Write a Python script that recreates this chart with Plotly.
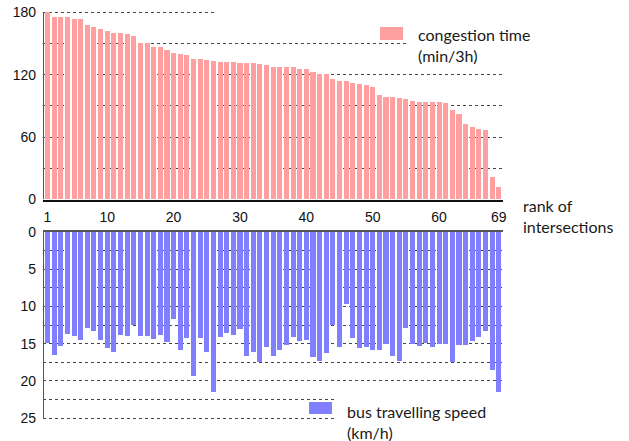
import plotly.graph_objects as go

ranks = list(range(1, 70))
congestion_time = [180, 175, 175, 175, 173, 173, 168, 166, 164, 162,
                   160, 160, 158.5, 157, 150, 150, 146.5, 146.5, 143.5, 141,
                   140, 139, 135, 135, 134, 133, 132, 132, 132, 131.5,
                   131.5, 131, 130.5, 129.3, 127.3, 127.3, 127.3, 127.3, 125.4, 125.4,
                   122, 120.6, 120.6, 115.5, 113.9, 113.9, 111.9, 111, 110, 108,
                   100.4, 98.5, 98.5, 97.5, 96.5, 94.6, 93.6, 93.6, 93.6, 93.6,
                   92.4, 86, 82, 72.5, 69.6, 67.7, 66.7, 21.5, 11.8]
bus_speed = [14.9, 16.5, 15.3, 13.7, 13.9, 14.5, 12.9, 13.3, 14.5, 15.5,
             16.1, 13.8, 13.9, 12.5, 13.9, 13.9, 14.3, 13.8, 14.7, 11.7,
             15.8, 14.2, 19.3, 14.2, 16.1, 21.4, 14.1, 13.5, 13.8, 13.0,
             16.6, 16.1, 17.4, 15.4, 16.6, 15.8, 15.1, 14.1, 14.6, 14.5,
             16.7, 17.3, 16.2, 12.4, 15.4, 9.6, 14.2, 15.5, 15.4, 15.8,
             15.8, 15.0, 16.6, 17.3, 12.9, 15.0, 15.3, 14.9, 15.4, 15.0,
             15.0, 17.4, 15.1, 15.1, 14.6, 14.1, 13.3, 18.5, 21.4]
x_tickvals = [1, 10, 20, 30, 40, 50, 60, 69]
top_tickvals = [0, 30, 60, 90, 120, 150, 180]
top_ticktext = ['0', '', '60', '', '120', '', '180']
bot_tickvals = [0, 2.5, 5, 7.5, 10, 12.5, 15, 17.5, 20, 22.5, 25]
bot_ticktext = ['0', '', '5', '', '10', '', '15', '', '20', '', '25']

W, H = 629, 441
def px(x):
    return x / W
def py(y):
    return 1 - y / H

TEXT_FONT = dict(family='Lato', size=16, color='#1a1a1a')
TICK_FONT = dict(family='Liberation Sans', size=14, color='#111')
GRID = dict(showgrid=True, gridcolor='#444', gridwidth=1, griddash='dot')

fig = go.Figure()
fig.add_trace(go.Bar(x=ranks, y=congestion_time, marker_color='#FF9F9F',
                     width=0.76, xaxis='x', yaxis='y', name='congestion time (min/3h)',
                     showlegend=False))
fig.add_trace(go.Bar(x=ranks, y=bus_speed, marker_color='#8080FF',
                     width=0.76, xaxis='x2', yaxis='y2', name='bus travelling speed (km/h)',
                     showlegend=False))

xdom = [px(43), px(503)]
xrange_ = [0.32, 69.63]
# top: 0 at y=199.5, 180 at y=12.3; range padded to 183 so the 180 gridline is drawn
top_ppu = (199.5 - 12.3) / 180
# bottom: 0 at y=231.7, 25 at y=418.3; range padded to 25.3 so the 25 gridline is drawn
bot_ppu = (418.3 - 231.7) / 25
fig.update_layout(
    template='none',
    width=W, height=H,
    margin=dict(l=0, r=0, t=0, b=0, autoexpand=False),
    paper_bgcolor='white', plot_bgcolor='white',
    bargap=0,
    xaxis=dict(domain=xdom, range=xrange_, tickvals=x_tickvals, showgrid=False,
               showline=True, linecolor='#111', linewidth=1.5, ticks='',
               tickfont=TICK_FONT, anchor='y', zeroline=False, ticklabelstandoff=4,
               automargin=False),
    yaxis=dict(domain=[py(199.5), py(199.5 - 183 * top_ppu)], range=[0, 183],
               tickvals=top_tickvals, ticktext=top_ticktext, showline=False,
               tickfont=TICK_FONT, zeroline=False, anchor='x', ticks='',
               ticklabelstandoff=6, automargin=False, ticklabeloverflow='allow', **GRID),
    xaxis2=dict(domain=xdom, range=xrange_, side='top', showticklabels=False,
                showgrid=False, showline=True, linecolor='#555', linewidth=2,
                anchor='y2', zeroline=False, ticks='', automargin=False),
    yaxis2=dict(domain=[py(231.7 + 25.3 * bot_ppu), py(231.7)], range=[25.3, 0],
                tickvals=bot_tickvals, ticktext=bot_ticktext, showline=False,
                tickfont=TICK_FONT, zeroline=False, anchor='x2', ticks='',
                ticklabelstandoff=6, automargin=False, ticklabeloverflow='allow', **GRID),
)

shapes = [
    # vertical axis lines (ending exactly at 180 and 25, as in the reference)
    dict(type='line', xref='x', yref='y', x0=xrange_[0], x1=xrange_[0], y0=0, y1=180,
         line=dict(color='#555', width=2), layer='above'),
    dict(type='line', xref='x2', yref='y2', x0=xrange_[0], x1=xrange_[0], y0=0, y1=25,
         line=dict(color='#555', width=2), layer='above'),
    # white masks where the reference's gridlines are interrupted by the legend areas
    dict(type='rect', xref='paper', yref='paper', x0=px(217), x1=px(506),
         y0=py(15), y1=py(9), fillcolor='white', line_width=0, layer='above'),
    dict(type='rect', xref='paper', yref='paper', x0=px(406), x1=px(506),
         y0=py(66), y1=py(20), fillcolor='white', line_width=0, layer='above'),
    dict(type='rect', xref='paper', yref='paper', x0=px(335), x1=px(506),
         y0=py(425), y1=py(395), fillcolor='white', line_width=0, layer='above'),
    # legend swatches
    dict(type='rect', xref='paper', yref='paper', x0=px(380), x1=px(403),
         y0=py(40), y1=py(27), fillcolor='#FF9F9F', line_width=0, layer='above'),
    dict(type='rect', xref='paper', yref='paper', x0=px(309), x1=px(332),
         y0=py(414), y1=py(402), fillcolor='#8080FF', line_width=0, layer='above'),
]
fig.update_layout(shapes=shapes)

annotations = [
    dict(text='congestion time<br>(min/3h)', x=px(416), y=py(44.5), xref='paper', yref='paper',
         xanchor='left', yanchor='middle', align='left', showarrow=False, font=TEXT_FONT),
    dict(text='bus travelling speed<br>(km/h)', x=px(345), y=py(421.5), xref='paper', yref='paper',
         xanchor='left', yanchor='middle', align='left', showarrow=False, font=TEXT_FONT),
    dict(text='rank of<br>intersections', x=px(521), y=py(216), xref='paper', yref='paper',
         xanchor='left', yanchor='middle', align='left', showarrow=False, font=TEXT_FONT),
]
fig.update_layout(annotations=annotations)

# remove the browser's default 8px body margin so the 629x441 figure fills the window exactly
fig.write_html('out.html',
               config={'displayModeBar': False},
               post_script="document.body.style.margin='0';document.body.style.overflow='hidden';")
